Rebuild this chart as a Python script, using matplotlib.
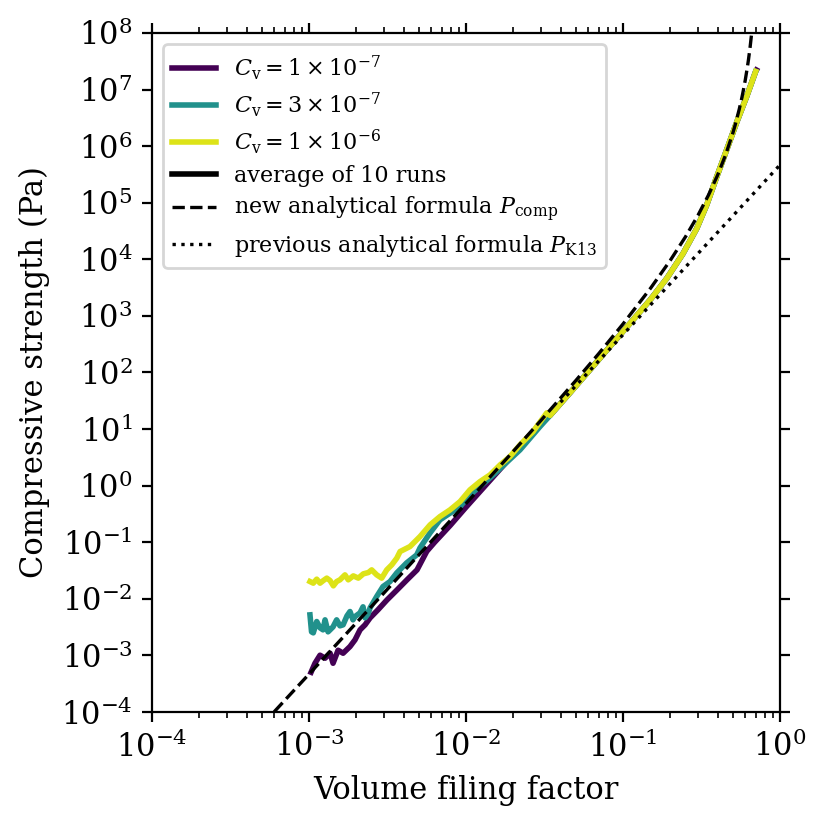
import numpy as np
import matplotlib
matplotlib.use("Agg")
import matplotlib.pyplot as plt
from matplotlib.ticker import LogLocator, NullLocator, LogFormatterMathtext

plt.rcParams['font.family'] = 'DejaVu Serif'
plt.rcParams['mathtext.fontset'] = 'dejavuserif'

# simulation curves as log10 values
# low-filling-factor noisy part (per run), then the shared high-filling part
lphi_c1 = [-2.987, -2.962, -2.930, -2.898, -2.866, -2.847, -2.815, -2.783,
           -2.739, -2.707, -2.675, -2.643, -2.611, -2.561, -2.503, -2.439,
           -2.376, -2.312, -2.25, -2.2, -2.1, -2.0, -1.9, -1.8, -1.7, -1.6, -1.5]
lP_c1 = [-3.297, -3.138, -2.996, -3.049, -2.961, -3.138, -2.908, -2.961,
         -2.843, -2.724, -2.548, -2.459, -2.336, -2.194, -2.018, -1.841,
         -1.664, -1.488, -1.16, -1.00, -0.70, -0.38, -0.07, 0.24, 0.55, 0.87, 1.18]

lphi_c2 = [-2.994, -2.984, -2.973, -2.951, -2.930, -2.911, -2.898, -2.879,
           -2.866, -2.847, -2.824, -2.803, -2.783, -2.758, -2.739, -2.720,
           -2.707, -2.675, -2.656, -2.643, -2.624, -2.611, -2.569, -2.529,
           -2.484, -2.441, -2.378, -2.314, -2.293, -2.229, -2.166, -2.038,
           -1.975, -1.847, -1.656, -1.529]
lP_c2 = [-2.283, -2.583, -2.601, -2.401, -2.512, -2.548, -2.371, -2.583,
         -2.548, -2.495, -2.371, -2.477, -2.459, -2.300, -2.224, -2.371,
         -2.313, -2.247, -2.141, -2.336, -2.265, -2.159, -1.959, -1.783,
         -1.694, -1.541, -1.364, -1.223, -1.099, -0.834, -0.604, -0.369,
         -0.163, 0.138, 0.633, 1.044]

lphi_c3 = [-2.994, -2.973, -2.951, -2.930, -2.909, -2.887, -2.866, -2.845,
           -2.824, -2.803, -2.771, -2.750, -2.718, -2.686, -2.654, -2.622,
           -2.601, -2.569, -2.537, -2.505, -2.473, -2.441, -2.420, -2.357,
           -2.293, -2.229, -2.166, -2.102, -2.038, -1.975, -1.911, -1.847,
           -1.783, -1.720, -1.656, -1.573, -1.486]
lP_c3 = [-1.694, -1.723, -1.652, -1.723, -1.677, -1.634, -1.677, -1.770,
         -1.694, -1.664, -1.576, -1.664, -1.594, -1.634, -1.558, -1.535,
         -1.488, -1.576, -1.634, -1.488, -1.399, -1.281, -1.164, -1.076,
         -0.899, -0.693, -0.546, -0.428, -0.281, -0.074, 0.072, 0.191,
         0.367, 0.514, 0.721, 0.956, 1.286]

lphi_hi = [-1.465, -1.338, -1.210, -1.083, -0.955, -0.828, -0.722, -0.618,
           -0.531, -0.467, -0.404, -0.339, -0.276, -0.212, -0.155]
lP_hi = [1.24, 1.64, 2.05, 2.46, 2.87, 3.28, 3.66, 4.10,
         4.54, 4.96, 5.45, 5.94, 6.42, 6.88, 7.32]

# analytical curves
phi_comp = [6e-4, 1e-3, 3e-3, 1e-2, 2e-2, 3e-2, 0.05, 0.07, 0.1, 0.15, 0.2,
            0.25, 0.3, 0.35, 0.4, 0.45, 0.5, 0.52, 0.55, 0.57, 0.58, 0.6,
            0.62, 0.63, 0.645, 0.66, 0.675]
P_comp = [1.01e-4, 4.68e-4, 1.27e-2, 0.485, 4.05, 14.2, 71.8, 215, 720,
          3.10e3, 9.57e3, 2.50e4, 5.96e4, 1.36e5, 3.05e5, 6.98e5, 1.68e6,
          2.45e6, 4.49e6, 6.94e6, 8.76e6, 1.44e7, 2.51e7, 3.40e7, 5.62e7,
          9.97e7, 1.96e8]

phi_k13 = [0.04, 0.1, 0.3, 1.0]
P_k13 = [29.8, 466, 1.26e4, 4.66e5]

labels = [r'$C_{\rm v} = 1 \times 10^{-7}$',
          r'$C_{\rm v} = 3 \times 10^{-7}$',
          r'$C_{\rm v} = 1 \times 10^{-6}$']
colors = ['#440154', '#21918c', '#dde318']


def main():
    fig = plt.figure(figsize=(8.29 / 2, 8.24 / 2), dpi=200)
    ax = fig.add_axes([0.1834, 0.1359, 0.7575, 0.8241])

    runs = [(lphi_c1, lP_c1), (lphi_c2, lP_c2), (lphi_c3, lP_c3)]
    for i, (lx, ly) in enumerate(runs):
        x = 10 ** np.array(lx + lphi_hi)
        y = 10 ** np.array(ly + lP_hi)
        if i == 0:
            # first run's end point pokes out slightly past the others
            x = np.append(x, 10 ** -0.150)
            y = np.append(y, 10 ** 7.345)
        ax.plot(x, y, color=colors[i], lw=2.0, label=labels[i])

    ax.plot([], [], color='k', lw=2.0, label='average of 10 runs')
    ax.plot(phi_comp, P_comp, 'k--', lw=1.2,
            label=r'new analytical formula $P_{\rm comp}$')
    ax.plot(phi_k13, P_k13, 'k:', lw=1.2,
            label=r'previous analytical formula $P_{\rm K13}$')

    ax.set_xscale('log')
    ax.set_yscale('log')
    ax.set_xlim(1e-4, 1)
    ax.set_ylim(1e-4, 1e8)

    ax.yaxis.set_major_locator(LogLocator(base=10, numticks=20))
    ax.yaxis.set_major_formatter(LogFormatterMathtext())
    ax.yaxis.set_minor_locator(NullLocator())
    ax.tick_params(which='both', top=True, right=True, labelsize=11)

    ax.set_xlabel('Volume filing factor', fontsize=11)
    ax.set_ylabel('Compressive strength (Pa)', fontsize=11)

    ax.legend(loc='upper left', fontsize=8, labelspacing=0.38)

    fig.savefig('out.png', dpi=200)


if __name__ == "__main__":
    main()
